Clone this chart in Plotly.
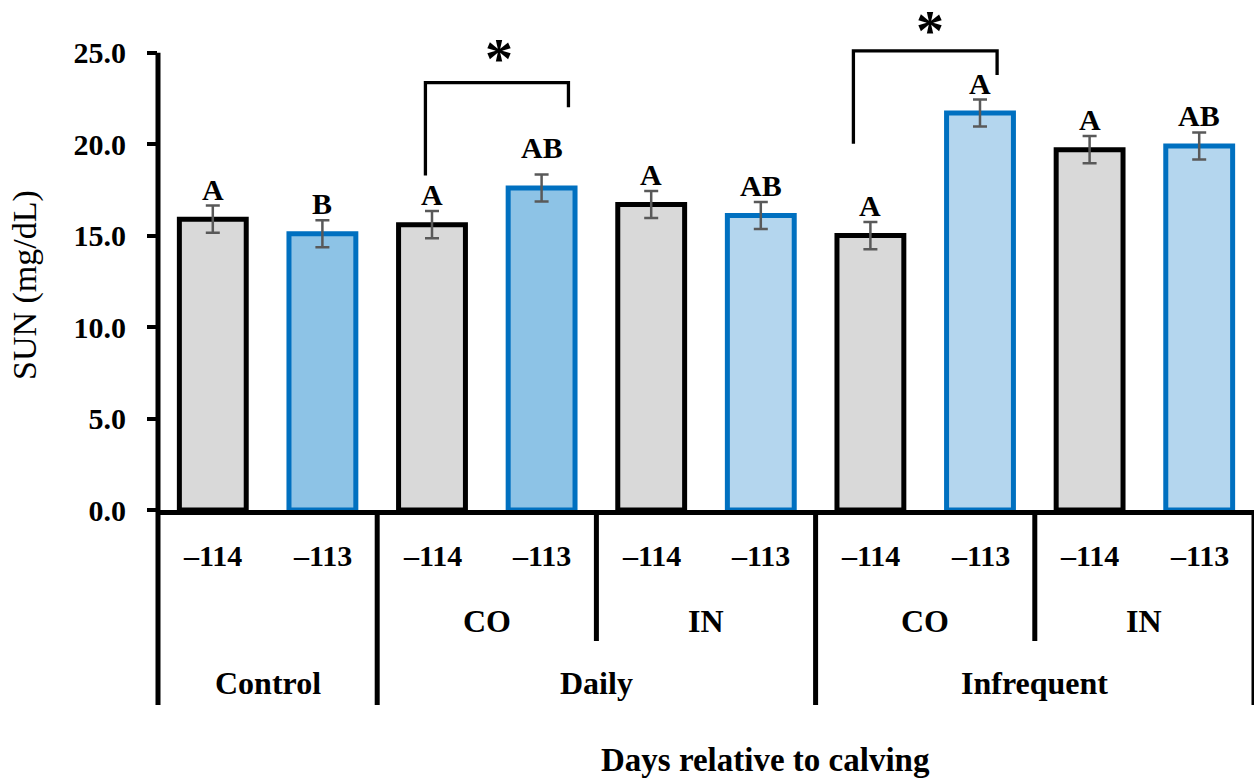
import plotly.graph_objects as go

# ---------------- data ----------------
day_labels = ["–114", "–113", "–114", "–113", "–114", "–113", "–114", "–113", "–114", "–113"]
sun_values = [15.9, 15.1, 15.6, 17.6, 16.7, 16.1, 15.0, 21.7, 19.7, 19.9]
sun_sem = [0.74, 0.74, 0.74, 0.74, 0.74, 0.74, 0.74, 0.74, 0.74, 0.74]
letters = ["A", "B", "A", "AB", "A", "AB", "A", "A", "A", "AB"]

treat_labels = ["", "CO", "IN", "CO", "IN"]          # each spans 2 bars
freq_labels = ["Control", "Daily", "Infrequent"]
freq_spans = [2, 4, 4]                                # bars per frequency group

# significance brackets: (left x, right x, top y, left-foot y, right-foot y)
brackets = [(1.94, 3.245, 23.36, 18.29, 22.02),
            (5.845, 7.156, 25.10, 20.02, 23.78)]
star_pos = [(2.615, 25.04), (6.54, 26.57)]

# ---------------- style ----------------
FONT = "Liberation Serif"
fills = ["#D9D9D9", "#8DC3E6", "#D9D9D9", "#8DC3E6", "#D9D9D9",
         "#B4D6EE", "#D9D9D9", "#B4D6EE", "#D9D9D9", "#B4D6EE"]
borders = ["#000000", "#0070C0"] * 5

W, H = 1254, 778
ML, MR, MT, MB = 158, 0, 0, 268
plot_h = H - MT - MB
YMAX = 27.88
NCAT = len(sun_values)


def py(px):
    """pixel row -> paper y"""
    return (plot_h + MT - px) / plot_h


def pxcat(c):
    """category coordinate -> paper x"""
    return (c + 0.5) / NCAT


x = list(range(NCAT))

fig = go.Figure()
fig.add_trace(go.Bar(
    x=x, y=sun_values, width=0.61,
    marker=dict(color=fills, line=dict(color=borders, width=5)),
    error_y=dict(type="data", array=sun_sem, color="#595959", thickness=2.5, width=7),
    hoverinfo="skip",
))

ann = []
shapes = []

# letters above error bars
extra = [0, 0, 0, 11, 0, 0, 0, 0, 0, 0]
for i, (v, e, t) in enumerate(zip(sun_values, sun_sem, letters)):
    ann.append(dict(x=i, y=v + e, xref="x", yref="y", text=t, showarrow=False,
                    yanchor="bottom", yshift=-2 + extra[i],
                    font=dict(family=FONT, size=30, color="black", weight="bold")))

# row 1: days
for i, t in enumerate(day_labels):
    ann.append(dict(x=i, y=py(555), xref="x", yref="paper", text=t, showarrow=False,
                    yanchor="middle", font=dict(family=FONT, size=30, color="black", weight="bold")))
# row 2: treatment
for j, t in enumerate(treat_labels):
    ann.append(dict(x=2 * j + 0.5, y=py(621), xref="x", yref="paper", text=t, showarrow=False,
                    yanchor="middle", font=dict(family=FONT, size=32, color="black", weight="bold")))
# row 3: frequency
start = 0
for t, n in zip(freq_labels, freq_spans):
    ann.append(dict(x=start + (n - 1) / 2, y=py(683), xref="x", yref="paper", text=t, showarrow=False,
                    yanchor="middle", font=dict(family=FONT, size=32, color="black", weight="bold")))
    start += n

# separators (paper refs so they are not clipped at the plot edge)
sep_long = [-0.5, 1.5, 5.5, 9.5]
sep_mid = [3.5, 7.5]
for s in sep_long:
    shapes.append(dict(type="line", xref="paper", yref="paper", x0=pxcat(s), x1=pxcat(s),
                       y0=py(510), y1=py(705), line=dict(color="black", width=5)))
for s in sep_mid:
    shapes.append(dict(type="line", xref="paper", yref="paper", x0=pxcat(s), x1=pxcat(s),
                       y0=py(510), y1=py(641), line=dict(color="black", width=5)))
# y axis line up to 25
shapes.append(dict(type="line", xref="paper", yref="y", x0=0, x1=0, y0=0, y1=25,
                   line=dict(color="black", width=5)))

# brackets
for (l, r, top, lb, rb) in brackets:
    shapes.append(dict(type="path", xref="x", yref="y",
                       path=f"M {l},{lb} L {l},{top} L {r},{top} L {r},{rb}",
                       line=dict(color="black", width=3.3)))
for (sx, sy) in star_pos:
    ann.append(dict(x=sx, y=sy, xref="x", yref="y", text="*", showarrow=False,
                    yanchor="middle", yshift=-7,
                    font=dict(family=FONT, size=56, color="black", weight="bold")))

# axis titles
ann.append(dict(x=(25 - ML) / (W - ML - MR), y=py(285), xref="paper", yref="paper",
                xanchor="center", yanchor="middle",
                text="SUN (mg/dL)", textangle=-90, showarrow=False,
                font=dict(family=FONT, size=34, color="black")))
ann.append(dict(x=(765 - ML) / (W - ML - MR), y=py(760), xref="paper", yref="paper",
                xanchor="center", text="Days relative to calving", showarrow=False, yanchor="middle",
                font=dict(family=FONT, size=33, color="black", weight="bold")))

fig.update_layout(
    width=W, height=H,
    margin=dict(l=ML, r=MR, t=MT, b=MB),
    plot_bgcolor="white", paper_bgcolor="white",
    showlegend=False,
    annotations=ann, shapes=shapes,
    xaxis=dict(range=[-0.5, NCAT - 0.5], showticklabels=False, ticks="", showgrid=False, zeroline=False,
               showline=True, linecolor="black", linewidth=5),
    yaxis=dict(range=[0, YMAX], tickvals=[0, 5, 10, 15, 20, 25],
               ticktext=["0.0", "5.0", "10.0", "15.0", "20.0", "25.0"],
               ticks="outside", ticklen=10, tickwidth=4, tickcolor="black",
               ticklabelstandoff=15,
               showgrid=False, zeroline=False, showline=False,
               tickfont=dict(family=FONT, size=30, color="black", weight="bold")),
)

fig.write_html("out.html")
